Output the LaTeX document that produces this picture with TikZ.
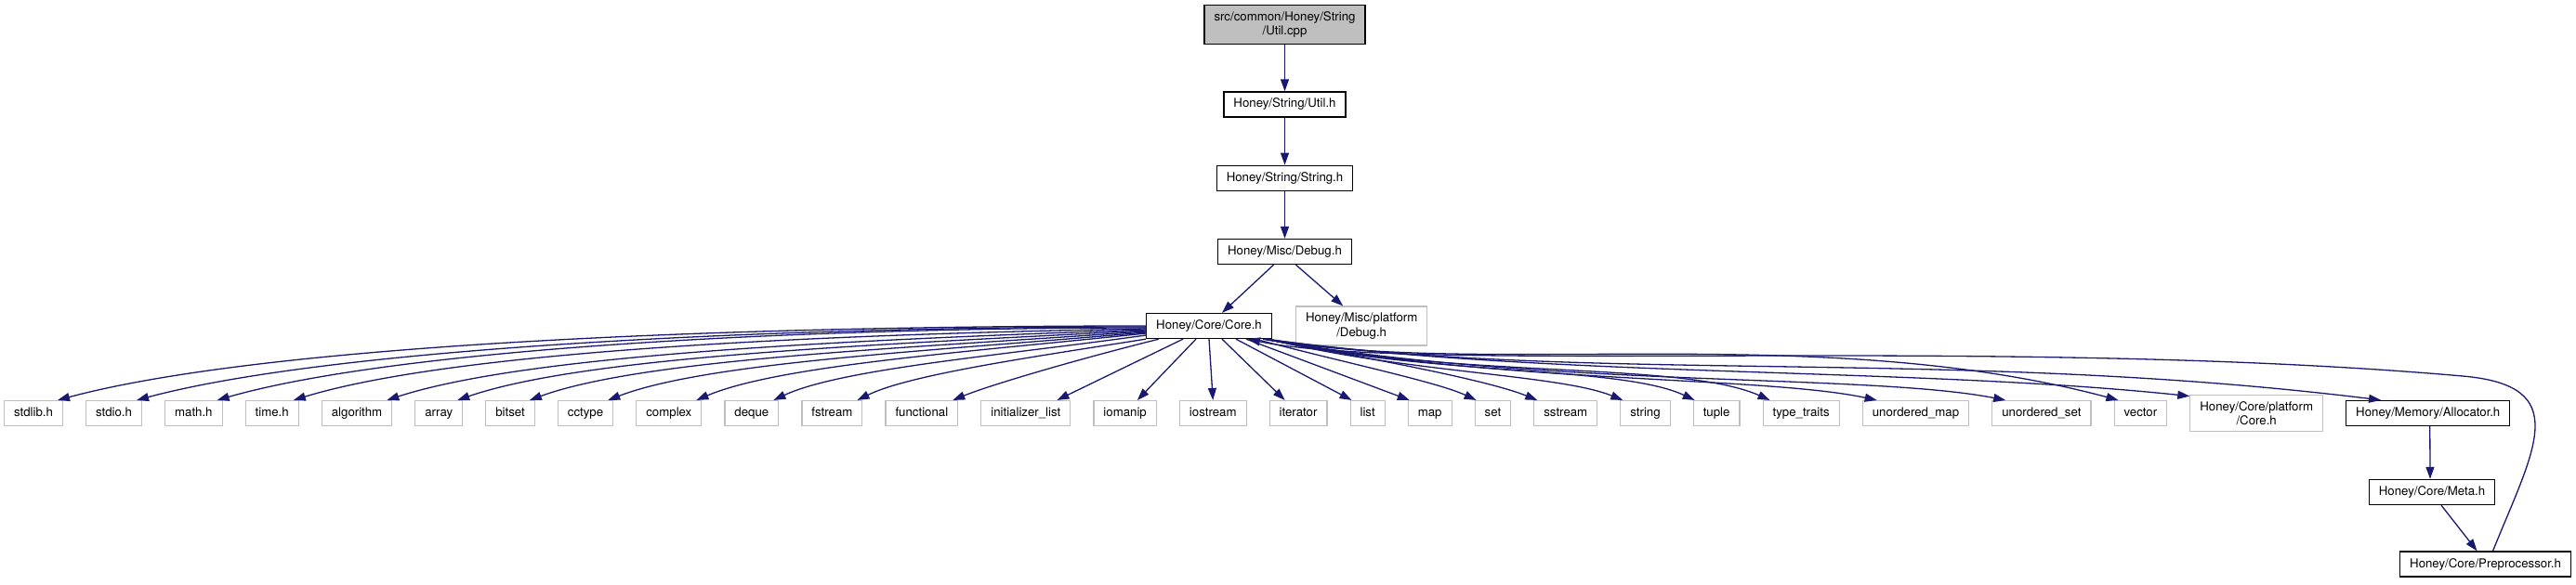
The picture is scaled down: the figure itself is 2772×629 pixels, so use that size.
\documentclass[tikz,border=0pt]{standalone}
\usepackage{fontspec}
\setmainfont{TeX Gyre Heros}
\usepackage{tikz}
\usetikzlibrary{arrows.meta,positioning}
\definecolor{edgeblue}{RGB}{25,25,112}
\definecolor{boxgrey}{RGB}{191,191,191}

\begin{document}
\begin{tikzpicture}[
  x=1pt, y=-1pt,
  font=\fontsize{13.25pt}{15.5pt}\selectfont,
  base/.style={align=center, inner xsep=10.5pt, inner ysep=7pt, fill=white},
  box/.style={base, draw=black, line width=1.3pt, text height=10pt, text depth=3pt},
  sysbox/.style={base, draw=boxgrey, line width=1.1pt, text height=10pt, text depth=3pt},
  arr/.style={-{Triangle[length=13pt, width=9pt]}, edgeblue, line width=1.3pt}
]
\useasboundingbox (0,0) rectangle (2772,629);

% include chain
\node[base, draw=black, fill=boxgrey, line width=1.3pt] (cpp) at (1382.5,26.5) {src/common/Honey/String\\/Util.cpp};
\node[box, below=50pt of cpp] (utilh) {Honey/String/Util.h};
\node[box, below=51pt of utilh] (stringh) {Honey/String/String.h};
\node[box, below=51pt of stringh] (debugh) {Honey/Misc/Debug.h};
\node[box] (coreh) at (1301,351) {Honey/Core/Core.h};
\node[base, draw=boxgrey, line width=1.1pt, right=25pt of coreh] (pdebug) {Honey/Misc/platform\\/Debug.h};

% headers of Core.h
\node[sysbox, anchor=west] (stdlib) at (4,445) {stdlib.h};
\node[sysbox, right=24pt of stdlib] (stdio) {stdio.h};
\node[sysbox, right=24pt of stdio] (mathh) {math.h};
\node[sysbox, right=24pt of mathh] (timeh) {time.h};
\node[sysbox, right=24pt of timeh] (algorithm) {algorithm};
\node[sysbox, right=24pt of algorithm] (array) {array};
\node[sysbox, right=24pt of array] (bitset) {bitset};
\node[sysbox, right=24pt of bitset] (cctype) {cctype};
\node[sysbox, right=24pt of cctype] (complex) {complex};
\node[sysbox, right=24pt of complex] (deque) {deque};
\node[sysbox, right=24pt of deque] (fstream) {fstream};
\node[sysbox, right=24pt of fstream] (functional) {functional};
\node[sysbox, right=24pt of functional] (initlist) {initializer\_list};
\node[sysbox, right=24pt of initlist] (iomanip) {iomanip};
\node[sysbox, right=24pt of iomanip] (iostream) {iostream};
\node[sysbox, right=24pt of iostream] (iterator) {iterator};
\node[sysbox, right=24pt of iterator] (list) {list};
\node[sysbox, right=24pt of list] (map) {map};
\node[sysbox, right=24pt of map] (set) {set};
\node[sysbox, right=24pt of set] (sstream) {sstream};
\node[sysbox, right=24pt of sstream] (string) {string};
\node[sysbox, right=24pt of string] (tuple) {tuple};
\node[sysbox, right=24pt of tuple] (typetraits) {type\_traits};
\node[sysbox, right=24pt of typetraits] (umap) {unordered\_map};
\node[sysbox, right=24pt of umap] (uset) {unordered\_set};
\node[sysbox, right=24pt of uset] (vector) {vector};
\node[base, draw=boxgrey, line width=1.1pt, right=24pt of vector] (pcore) {Honey/Core/platform\\/Core.h};
\node[box, right=24pt of pcore] (alloc) {Honey/Memory/Allocator.h};
\node[box] (meta) at (2617,530) {Honey/Core/Meta.h};
\node[box] (prepro) at (2674.5,607.5) {Honey/Core/Preprocessor.h};
\coordinate (back) at (2650,405);

\draw[arr] (cpp) -- (utilh);
\draw[arr] (utilh) -- (stringh);
\draw[arr] (stringh) -- (debugh);
\draw[arr] ([xshift=-12pt]debugh.south) -- ([xshift=14pt]coreh.north);
\draw[arr] ([xshift=12pt]debugh.south) -- ([xshift=-20pt]pdebug.north);

% left fan
\draw[arr] (coreh.west) .. controls +(180:460pt) and +(15:230pt) .. ([xshift=-6pt]stdlib.north east);
\draw[arr] ([yshift=-1pt]coreh.west) .. controls +(180:425pt) and +(15:212pt) .. ([xshift=-6pt]stdio.north east);
\draw[arr] ([yshift=-2pt]coreh.west) .. controls +(180:392pt) and +(16:196pt) .. ([xshift=-6pt]mathh.north east);
\draw[arr] ([yshift=-3pt]coreh.west) .. controls +(181:360pt) and +(17:180pt) .. ([xshift=-6pt]timeh.north east);
\draw[arr] ([yshift=-4pt]coreh.west) .. controls +(182:321pt) and +(18:160pt) .. ([xshift=-6pt]algorithm.north east);
\draw[arr] ([yshift=-5pt]coreh.west) .. controls +(183:291pt) and +(19:146pt) .. ([xshift=-6pt]array.north east);
\draw[arr] ([yshift=-6pt]coreh.west) .. controls +(184:262pt) and +(20:131pt) .. ([xshift=-6pt]bitset.north east);
\draw[arr] ([yshift=-7pt]coreh.west) .. controls +(185:229pt) and +(21:115pt) .. ([xshift=-6pt]cctype.north east);
\draw[arr] ([yshift=-8pt]coreh.west) .. controls +(186:193pt) and +(23:96pt) .. ([xshift=-6pt]complex.north east);
\draw[arr] ([yshift=-10pt]coreh.west) .. controls +(188:160pt) and +(25:80pt) .. ([xshift=-6pt]deque.north east);
\draw[arr] (coreh.south west) .. controls +(189:126pt) and +(26:63pt) .. ([xshift=-6pt]fstream.north east);
\draw[arr] ([xshift=14pt]coreh.south west) .. controls +(194:90pt) and +(22:45pt) .. ([xshift=-6pt]functional.north east);
\draw[arr] ([xshift=-28pt]coreh.south) -- ([xshift=-15pt]initlist.north east);
\draw[arr] ([xshift=-14pt]coreh.south) -- ([xshift=-21pt]iomanip.north east);
\draw[arr] (coreh.south) -- (iostream.north);

% right fan
\draw[arr] ([xshift=14pt]coreh.south) -- ([xshift=17pt]iterator.north west);
\draw[arr] ([xshift=29pt]coreh.south) -- ([xshift=2pt]list.north west);
\draw[arr] ([xshift=40pt]coreh.south) -- ([xshift=2pt]map.north west);
\draw[arr] ([xshift=50pt]coreh.south) .. controls +(-15:94pt) and +(155:47pt) .. ([xshift=2pt]set.north west);
\draw[arr] ([xshift=58pt]coreh.south) .. controls +(-10:116pt) and +(158:58pt) .. ([xshift=4pt]sstream.north west);
\draw[arr] ([xshift=-4pt]coreh.south east) .. controls +(-14:150pt) and +(158:75pt) .. ([xshift=3pt]string.north west);
\draw[arr] ([xshift=-5pt]coreh.south east) .. controls +(-13:177pt) and +(155:89pt) .. ([xshift=2pt]tuple.north west);
\draw[arr] ([xshift=-6pt]coreh.south east) .. controls +(-12:208pt) and +(156:104pt) .. ([xshift=8pt]typetraits.north west);
\draw[arr] ([xshift=-7pt]coreh.south east) .. controls +(-11:252pt) and +(168:126pt) .. ([xshift=16pt]umap.north west);
\draw[arr] ([xshift=-8pt]coreh.south east) .. controls +(-10:306pt) and +(169:153pt) .. ([xshift=15pt]uset.north west);
\draw[arr] ([xshift=-9pt]coreh.south east) .. controls +(-10:240pt) and +(165:330pt) .. ([xshift=5pt]vector.north west);
\draw[arr] ([xshift=-7pt]coreh.south east) .. controls +(-8:300pt) and +(174:300pt) .. ([yshift=-2pt]pcore.north west);
\draw[arr] ([xshift=-6pt]coreh.south east) .. controls +(-8:350pt) and +(173:465pt) .. ([xshift=38pt]alloc.north west);

\draw[arr] ([xshift=2pt]alloc.south) -- ([xshift=-2pt]meta.north);
\draw[arr] ([xshift=10pt]meta.south) -- ([xshift=-9pt]prepro.north);
\draw[arr] ([xshift=8pt]prepro.north) .. controls +(68:120pt) and +(-5:120pt) .. (back)
  .. controls +(175:500pt) and +(-12:180pt) .. ([xshift=-26pt]coreh.south east);
\end{tikzpicture}
\end{document}
